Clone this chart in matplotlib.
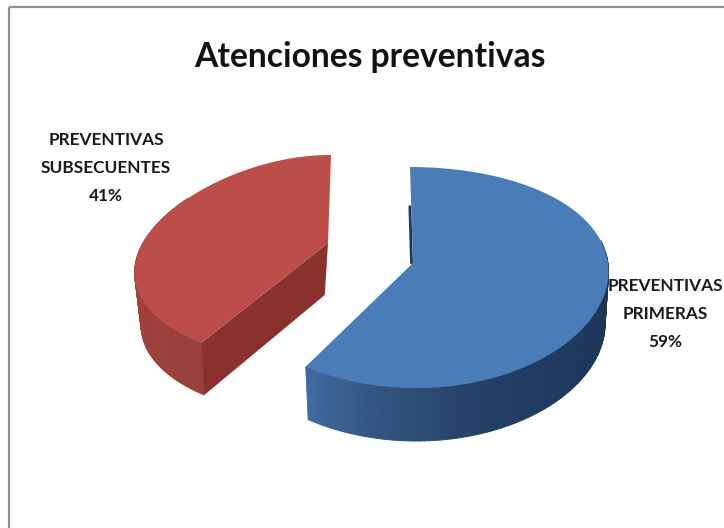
import numpy as np
import matplotlib
matplotlib.use("Agg")
import matplotlib.pyplot as plt
from matplotlib.collections import PolyCollection
from matplotlib.patches import Rectangle
from matplotlib.path import Path
from matplotlib.transforms import Affine2D, Transform
from matplotlib.colors import to_rgb

TITLE = "Atenciones preventivas"
CATEGORIES = ["PREVENTIVAS\nPRIMERAS", "PREVENTIVAS\nSUBSECUENTES"]
VALUES = [59, 41]
TOP_COLORS = ["#4A7CB8", "#BC4D49"]
FONT = "Lato"

W, H = 724, 528


class Tilt(Transform):
    """Maps the unit pie disc to its tilted, perspective-drawn position (pixels)."""
    input_dims = output_dims = 2
    is_affine = False
    has_inverse = False

    def __init__(self, cx, cy, rx, p, a, b, s):
        super().__init__()
        self.c = (cx, cy, rx, p, a, b, s)

    def transform_non_affine(self, xy):
        xy = np.asarray(xy, float)
        cx, cy, rx, p, a, b, s = self.c
        u, v = xy[:, 0], xy[:, 1]
        return np.column_stack([cx + rx * u * (1 - p * v) + s * v,
                                cy - a * v + b * v * v])

    def transform_path_non_affine(self, path):
        polys = path.to_polygons(transform=Affine2D().scale(2000))
        return Path(self.transform_non_affine(polys[0] / 2000.0))


def rim(tr, t1, t2, n=90):
    t = np.radians(np.linspace(t1, t2, n))
    return tr.transform_non_affine(np.column_stack([np.cos(t), np.sin(t)]))


def lower(pts, pivot, scale, depth):
    out = pts.copy()
    out[:, 0] = pivot + (out[:, 0] - pivot) * scale
    out[:, 1] = out[:, 1] + depth
    return out


def side(ax, upper, bottom, colors, z):
    quads = [np.vstack([upper[i], upper[i + 1], bottom[i + 1], bottom[i]])
             for i in range(len(upper) - 1)]
    stops = np.linspace(0, 1, len(colors))
    rgb = np.array([to_rgb(c) for c in colors])
    f = np.linspace(0, 1, len(quads))
    fc = np.column_stack([np.interp(f, stops, rgb[:, k]) for k in range(3)])
    ax.add_collection(PolyCollection(quads, facecolors=fc, edgecolors=fc,
                                     linewidths=0.7, zorder=z))


fig = plt.figure(figsize=(W / 100, H / 100), dpi=100, facecolor="white")
ax = fig.add_axes([0, 0, 1, 1])
wedges, _ = ax.pie(VALUES, colors=TOP_COLORS, startangle=90, counterclock=False, radius=1)
ax.set_aspect("auto")
ax.set_xlim(0, W)
ax.set_ylim(H, 0)
ax.axis("off")

boundary = 90 - 360 * VALUES[0] / sum(VALUES)

blue_tr = Tilt(413, 263, 195, 0.06, 110.5, 14.5, -3)
red_tr = Tilt(328, 243, 185, 0.30, 104.5, 16.5, 3)

wedges[0].set_transform(blue_tr + ax.transData)
wedges[1].set_transform(red_tr + ax.transData)
wedges[0].set_zorder(5)
wedges[1].set_zorder(5)
wedges[0].set_clip_on(False)
wedges[1].set_clip_on(False)

# blue outer wall
up = rim(blue_tr, boundary, 12)
side(ax, up, lower(up, 430, 0.98, 53),
     ["#3F6A9F", "#2F5078", "#233F64", "#1E3A5E", "#1C3656", "#1B3455"], 3)

# red outer wall and cut face
up = rim(red_tr, boundary, boundary - 85)
side(ax, up, lower(up, 263, 0.95, 52), ["#97403B", "#A33F3B", "#AC4340"], 3)
apex = red_tr.transform_non_affine(np.array([[0.0, 0.0]]))
end = rim(red_tr, boundary, boundary, 1)
cut_up = np.vstack([apex, end])
cut = np.vstack([cut_up, lower(cut_up, 263, 0.95, 52)[::-1]])
ax.fill(cut[:, 0], cut[:, 1], color="#8A302D", zorder=4, lw=0)

# sliver of the blue cut face
edge = blue_tr.transform_non_affine(np.array([[0.0, 0.0], [0.0, 0.55]]))
ax.plot(edge[:, 0] - 1.5, edge[:, 1], color="#1C3656", lw=2.0, zorder=4, solid_capstyle="round")

ax.add_patch(Rectangle((9, 7), W + 10, H + 10, fill=False, ec="#8E8E8E", lw=1.6, zorder=1, clip_on=True))

ax.text(370, 57, TITLE, ha="center", va="center", fontsize=24.2, fontweight="bold",
        family=FONT, color="#111111", zorder=10)
ax.text(665, 314, f"{CATEGORIES[0]}\n{VALUES[0]}%", ha="center", va="center", fontsize=12.4,
        fontweight="bold", family=FONT, color="#1A1A1A", linespacing=1.93, zorder=10)
ax.text(106, 168, f"{CATEGORIES[1]}\n{VALUES[1]}%", ha="center", va="center", fontsize=12.4,
        fontweight="bold", family=FONT, color="#1A1A1A", linespacing=1.93, zorder=10)

fig.savefig("out.png", dpi=100, facecolor="white")
